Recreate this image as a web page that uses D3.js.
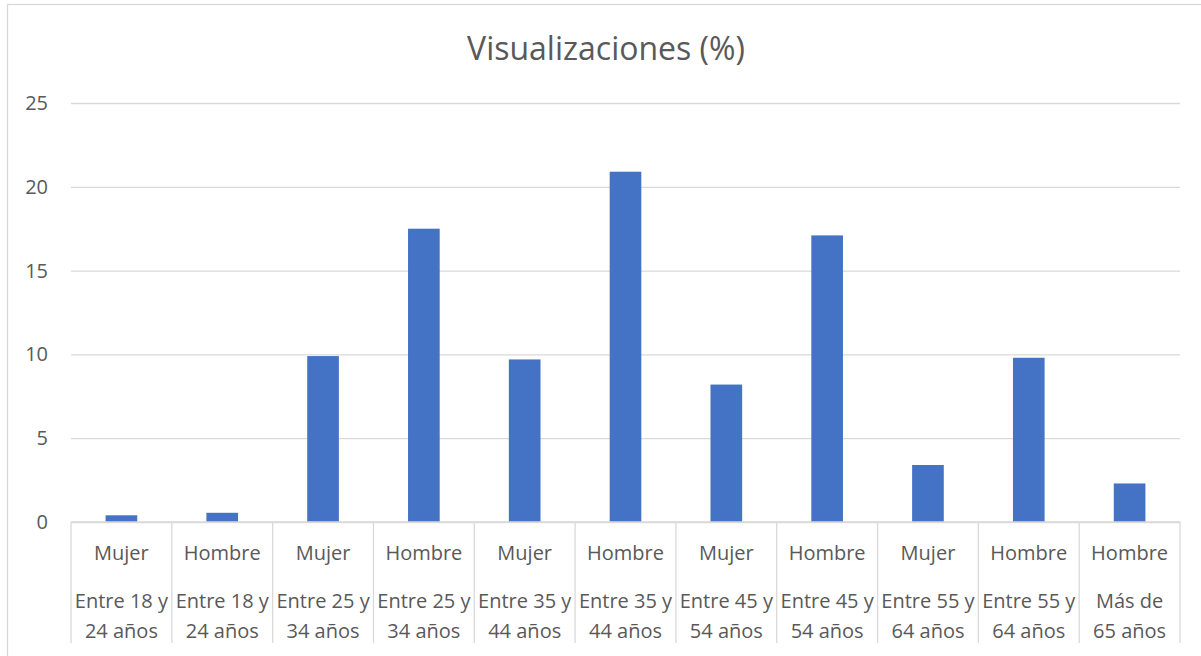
<!DOCTYPE html>
<html>
<head>
<meta charset="utf-8">
<script src="https://cdn.jsdelivr.net/npm/d3@7"></script>
<style>
  body { margin: 0; background: #fff; }
  text { font-family: "Open Sans", sans-serif; fill: #595959; }
  .grid line { stroke: #d9d9d9; stroke-width: 1.3; }
  .sep { stroke: #d9d9d9; stroke-width: 1.3; }
</style>
</head>
<body>
<div id="vis"></div>
<script>
var genders = ["Mujer", "Hombre", "Mujer", "Hombre", "Mujer", "Hombre", "Mujer", "Hombre", "Mujer", "Hombre", "Hombre"];
var ageGroups = [
  ["Entre 18 y", "24 años"], ["Entre 18 y", "24 años"],
  ["Entre 25 y", "34 años"], ["Entre 25 y", "34 años"],
  ["Entre 35 y", "44 años"], ["Entre 35 y", "44 años"],
  ["Entre 45 y", "54 años"], ["Entre 45 y", "54 años"],
  ["Entre 55 y", "64 años"], ["Entre 55 y", "64 años"],
  ["Más de", "65 años"]
];
var values = [0.4, 0.55, 9.9, 17.5, 9.7, 20.9, 8.2, 17.1, 3.4, 9.8, 2.3];
var yTicks = [0, 5, 10, 15, 20, 25];
var title = "Visualizaciones (%)";

var width = 1201;
var height = 656;
var margin = {top: 103, right: 21, bottom: 134, left: 71};

var svg = d3.select("#vis").append("svg")
  .attr("width", width)
  .attr("height", height);

// chart frame
svg.append("rect")
  .attr("x", 7.5)
  .attr("y", 4.5)
  .attr("width", width + 20)
  .attr("height", height + 20)
  .attr("fill", "none")
  .attr("stroke", "#d9d9d9")
  .attr("stroke-width", 1.3);

svg.append("text")
  .attr("x", 606)
  .attr("y", 60)
  .attr("text-anchor", "middle")
  .style("font-size", "32px")
  .text(title);

var data = values.map(function(v, i) {
  return {id: i, value: v, gender: genders[i], age: ageGroups[i]};
});

var x = d3.scaleBand()
  .domain(data.map(function(d) { return d.id; }))
  .range([margin.left, width - margin.right])
  .padding(0);

var y = d3.scaleLinear()
  .domain([0, 25])
  .range([height - margin.bottom, margin.top]);

var barWidth = x.bandwidth() * 0.314;

// gridlines + y labels
var grid = svg.append("g")
  .attr("class", "grid")
  .attr("transform", "translate(" + margin.left + ",0)")
  .call(d3.axisLeft(y).tickValues(yTicks)
    .tickSize(-(width - margin.left - margin.right))
    .tickPadding(23)
    .tickFormat(d3.format("d")));
grid.select(".domain").remove();
grid.selectAll("text")
  .style("font-size", "20px")
  .attr("fill", "#595959");

svg.selectAll(".bar")
  .data(data).enter()
  .append("rect")
  .attr("class", "bar")
  .attr("x", function(d) { return x(d.id) + (x.bandwidth() - barWidth) / 2; })
  .attr("y", function(d) { return y(d.value); })
  .attr("width", barWidth)
  .attr("height", function(d) { return y(0) - y(d.value); })
  .attr("fill", "#4472c4");

// category separators
var seps = d3.range(data.length + 1).map(function(i) {
  return i < data.length ? x(i) : x(data.length - 1) + x.bandwidth();
});
svg.selectAll(".sep")
  .data(seps).enter()
  .append("line")
  .attr("class", "sep")
  .attr("x1", function(d) { return d; })
  .attr("x2", function(d) { return d; })
  .attr("y1", y(0))
  .attr("y2", 643);

svg.append("line")
  .attr("class", "sep")
  .attr("x1", margin.left)
  .attr("x2", width - margin.right)
  .attr("y1", y(0))
  .attr("y2", y(0));

var labels = svg.selectAll(".cat")
  .data(data).enter()
  .append("g")
  .attr("class", "cat")
  .attr("transform", function(d) { return "translate(" + (x(d.id) + x.bandwidth() / 2) + ",0)"; });

labels.append("text")
  .attr("text-anchor", "middle")
  .attr("y", 560)
  .style("font-size", "20px")
  .text(function(d) { return d.gender; });

labels.each(function(d) {
  var t = d3.select(this).append("text")
    .attr("text-anchor", "middle")
    .style("font-size", "20px");
  d.age.forEach(function(line, i) {
    t.append("tspan")
      .attr("x", 0)
      .attr("y", 608 + i * 30)
      .text(line);
  });
});
</script>
</body>
</html>
